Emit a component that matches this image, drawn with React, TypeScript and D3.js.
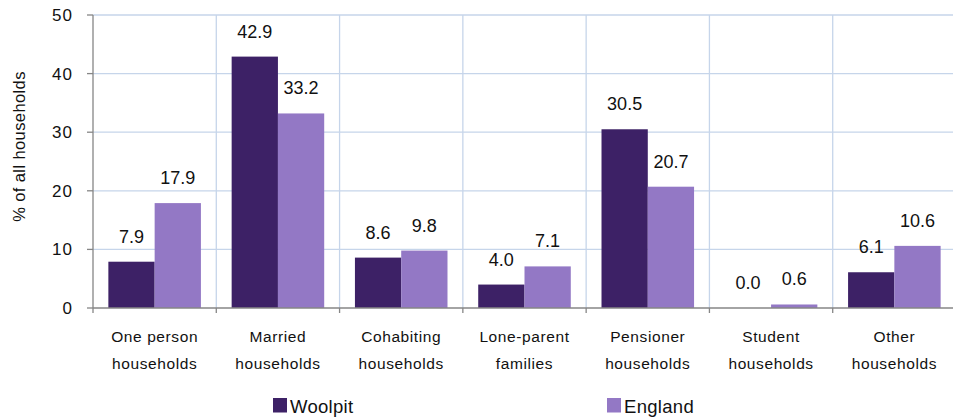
import React from "react";
import * as d3 from "d3";

const categories = [
  ["One person", "households"],
  ["Married", "households"],
  ["Cohabiting", "households"],
  ["Lone-parent", "families"],
  ["Pensioner", "households"],
  ["Student", "households"],
  ["Other", "households"],
];
const woolpit = [7.9, 42.9, 8.6, 4.0, 30.5, 0.0, 6.1];
const england = [17.9, 33.2, 9.8, 7.1, 20.7, 0.6, 10.6];
const seriesNames = ["Woolpit", "England"];
const yTicks = [0, 10, 20, 30, 40, 50];

const W = 953;
const H = 420;
const left = 93;
const right = 956;
const top = 15;
const bottom = 308;
const colors = ["#3D2166", "#9378C5"];
const gridColor = "#C6D5EA";
const axisColor = "#868686";
const font = "'Liberation Sans', Arial, sans-serif";

export default function App() {
  const x = d3
    .scaleBand<number>()
    .domain(d3.range(categories.length))
    .range([left, right])
    .padding(0);
  const y = d3.scaleLinear().domain([0, 50]).range([bottom, top]);
  const bw = x.bandwidth();
  const inner = d3
    .scaleBand<number>()
    .domain([0, 1])
    .range([0, bw])
    .paddingOuter(0.332)
    .paddingInner(0);
  const series = [woolpit, england];

  return (
    <svg
      width={W}
      height={H}
      style={{ position: "absolute", left: 0, top: 0, fontFamily: font }}
    >
      <rect x={0} y={0} width={W} height={H} fill="#fff" />
      {yTicks.slice(1).map((t) => (
        <line
          key={"h" + t}
          x1={left}
          x2={right}
          y1={y(t)}
          y2={y(t)}
          stroke={gridColor}
          strokeWidth={1.3}
        />
      ))}
      {d3.range(1, categories.length + 1).map((i) => {
        const xx = left + i * bw;
        return (
          <line
            key={"v" + i}
            x1={xx}
            x2={xx}
            y1={top}
            y2={bottom}
            stroke={gridColor}
            strokeWidth={1.3}
          />
        );
      })}
      {series.map((s, si) =>
        s.map((v, i) => (
          <rect
            key={"b" + si + "-" + i}
            x={(x(i) as number) + (inner(si) as number)}
            y={y(v)}
            width={inner.bandwidth()}
            height={bottom - y(v)}
            fill={colors[si]}
          />
        ))
      )}
      {series.map((s, si) =>
        s.map((v, i) => (
          <text
            key={"l" + si + "-" + i}
            x={(x(i) as number) + (inner(si) as number) + inner.bandwidth() / 2}
            y={y(v) - 19}
            textAnchor="middle"
            fontSize={18}
            fill="#111"
          >
            {v.toFixed(1)}
          </text>
        ))
      )}
      <line x1={left} x2={left} y1={top} y2={bottom} stroke={axisColor} strokeWidth={1.3} />
      <line x1={left} x2={right} y1={bottom} y2={bottom} stroke={axisColor} strokeWidth={1.3} />
      {yTicks.map((t) => (
        <g key={"yt" + t}>
          <line x1={left - 6} x2={left} y1={y(t)} y2={y(t)} stroke={axisColor} strokeWidth={1.3} />
          <text
            x={73}
            y={y(t) + 6}
            textAnchor="end"
            fontSize={17}
            letterSpacing={1}
            fill="#111"
          >
            {t}
          </text>
        </g>
      ))}
      {d3.range(0, categories.length + 1).map((i) => {
        const xx = left + i * bw;
        return (
          <line
            key={"xt" + i}
            x1={xx}
            x2={xx}
            y1={bottom}
            y2={bottom + 5}
            stroke={axisColor}
            strokeWidth={1.3}
          />
        );
      })}
      {categories.map((c, i) => (
        <text
          key={"c" + i}
          x={(x(i) as number) + bw / 2}
          textAnchor="middle"
          fontSize={15.5}
          letterSpacing={0.6}
          fill="#111"
        >
          <tspan x={(x(i) as number) + bw / 2} y={342}>
            {c[0]}
          </tspan>
          <tspan x={(x(i) as number) + bw / 2} y={368.5}>
            {c[1]}
          </tspan>
        </text>
      ))}
      <text
        transform={`translate(25,146.5) rotate(-90)`}
        textAnchor="middle"
        fontSize={16.5}
        letterSpacing={0.4}
        fill="#111"
      >
        % of all households
      </text>
      {seriesNames.map((n, si) => {
        const lx = si === 0 ? 273 : 607;
        return (
          <g key={"lg" + si}>
            <rect x={lx} y={398} width={14} height={14.5} fill={colors[si]} />
            <text x={lx + 17} y={413} fontSize={18.5} letterSpacing={0.3} fill="#111">
              {n}
            </text>
          </g>
        );
      })}
    </svg>
  );
}
